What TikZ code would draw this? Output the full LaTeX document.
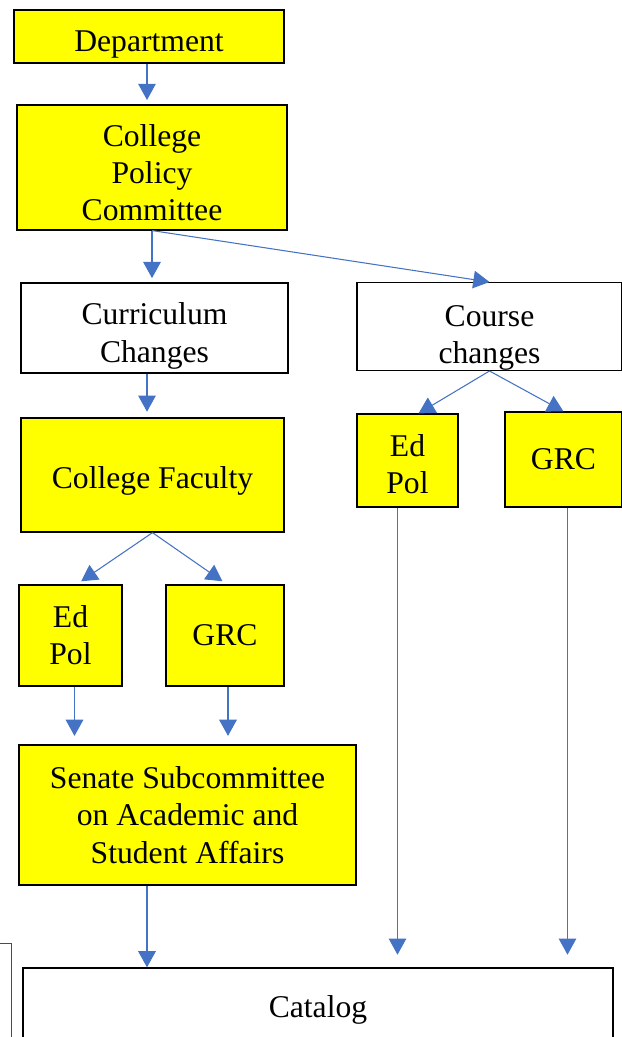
\documentclass[tikz,border=0pt]{standalone}
\usepackage{fontspec}
\setmainfont{Liberation Serif}
\usetikzlibrary{arrows.meta,calc}

\definecolor{boxyellow}{HTML}{FFFF00}
\definecolor{arrowblue}{HTML}{4472C4}

% strut on the first line, to set the text a little lower in its box
\newcommand{\lowstrut}[1]{\rule{0pt}{#1}}

\begin{document}
\begin{tikzpicture}[x=0.025cm, y=-0.025cm,
        box/.style = {draw=black, line width=0.9pt, align=center, inner sep=0pt,
                      font=\fontsize{22.5}{26.5}\selectfont},
        ybox/.style = {box, fill=boxyellow},
        flow/.style = {draw=arrowblue, line width=0.75pt, -{Triangle[width=12.5pt,length=11.5pt]}}]
            \useasboundingbox (0, 0) rectangle (622, 1037);

            \node[ybox, minimum width=6.75cm, minimum height=1.33cm] (dept) at (149, 36.5) {\lowstrut{25.5pt}Department};
            \node[ybox, minimum width=6.75cm, minimum height=3.12cm] (cpc) at (152, 167.5) {\lowstrut{22.7pt}College\\Policy\\Committee};
            \node[box, minimum width=6.67cm, minimum height=2.25cm] (curr) at (154.5, 328) {\lowstrut{26.9pt}Curriculum\\Changes};
            \node[box, minimum width=6.62cm, minimum height=2.17cm] (course) at (489.5, 326.5) {\lowstrut{31pt}Course\\changes};
            \node[ybox, minimum width=6.57cm, minimum height=2.85cm] (fac) at (152.5, 475) {\lowstrut{24pt}College Faculty};
            \node[ybox, minimum width=2.57cm, minimum height=2.52cm] (edpolA) at (70.5, 635.5) {Ed\\Pol};
            \node[ybox, minimum width=2.95cm, minimum height=2.52cm] (grcA) at (225, 635.5) {GRC};
            \node[ybox, minimum width=8.42cm, minimum height=3.5cm] (senate) at (187.5, 815) {Senate Subcommittee\\on Academic and\\Student Affairs};
            \node[ybox, minimum width=2.52cm, minimum height=2.32cm] (edpolB) at (407.5, 460.5) {\lowstrut{21pt}Ed\\Pol};
            \node[ybox, minimum width=2.92cm, minimum height=2.37cm] (grcB) at (563.5, 459.5) {GRC};
            \node[box, minimum width=14.75cm, minimum height=2.1cm] (catalog) at (318, 1010) {Catalog};

            \draw[black!70, line width=0.5pt] (0, 943) -- (11, 943) -- (11, 1037);

            \draw[flow] (dept.south -| 147, 0) to (147, 100);
            \draw[flow, shorten >=3pt] (cpc.south) to (cpc.south |- curr.north);
            \draw[flow] (cpc.south) to (course.north);
            \draw[flow, shorten >=4pt] (curr.south -| 147, 0) to (fac.north -| 147, 0);
            \draw[flow, shorten >=4pt] (fac.south) to ($(edpolA.north)+(6, 0)$);
            \draw[flow, shorten >=4pt] (fac.south) to ($(grcA.north)+(2, 0)$);
            \draw[flow, shorten >=6pt] ($(edpolA.south)+(4, 0)$) to ($(edpolA.south |- senate.north)+(4, 0)$);
            \draw[flow, shorten >=6pt] ($(grcA.south)+(3, 0)$) to ($(grcA.south |- senate.north)+(3, 0)$);
            \draw[flow] (senate.south -| 147, 0) to (catalog.north -| 147, 0);
            \draw[flow] (course.south) to ($(edpolB.north)+(11, 0)$);
            \draw[flow] (course.south) to ($(grcB.north)+(0, 0)$);
            \draw[flow, shorten >=9pt] ($(edpolB.south)+(-10, 0)$) to ($(edpolB.south |- catalog.north)+(-10, 0)$);
            \draw[flow, shorten >=9pt] ($(grcB.south)+(4, 0)$) to ($(grcB.south |- catalog.north)+(4, 0)$);

        \end{tikzpicture}
\end{document}
